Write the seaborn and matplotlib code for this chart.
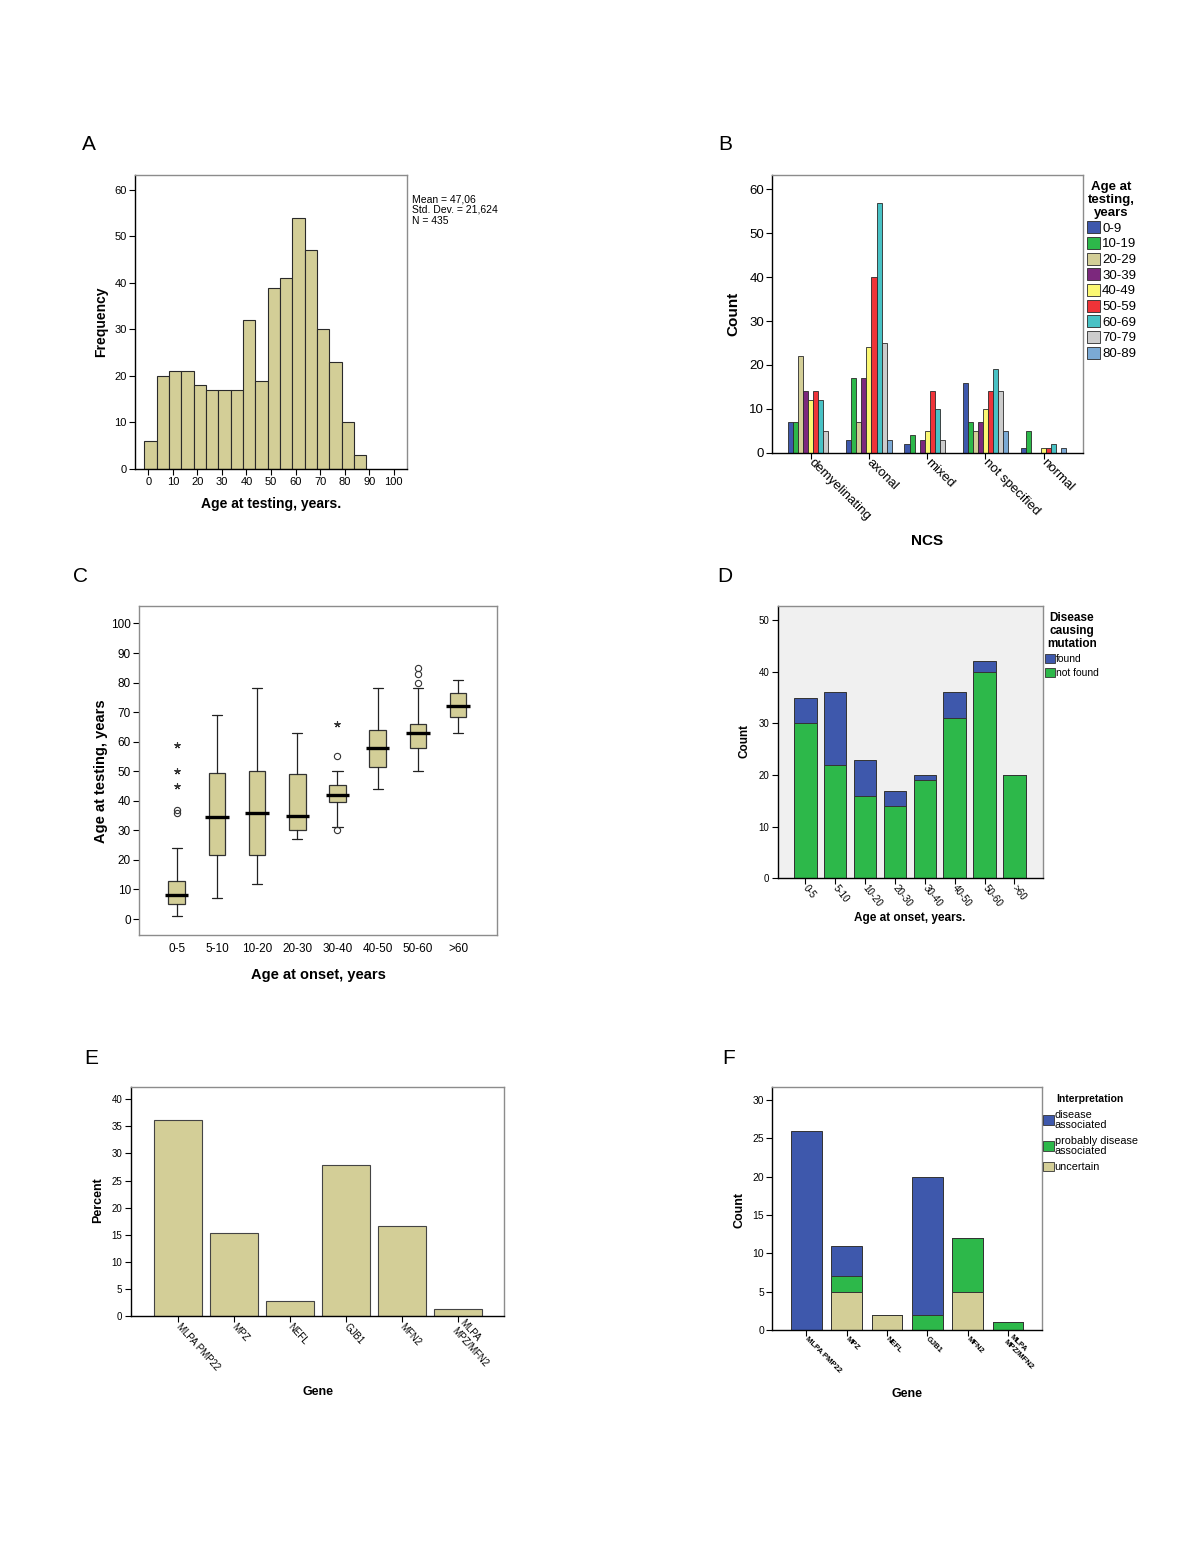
import numpy as np
import pandas as pd
import matplotlib
matplotlib.use("Agg")
import matplotlib.pyplot as plt
import seaborn as sns
from matplotlib.patches import Patch
from matplotlib import font_manager

# ---------------- data ----------------
# Panel A: histogram of age at testing
hist_counts = [6, 20, 21, 21, 18, 17, 17, 17, 32, 19, 39, 41, 54, 47, 30, 23, 10, 3]
hist_bin_start = -1.6
hist_bin_width = 5.02
hist_stats_text = "Mean = 47,06\nStd. Dev. = 21,624\nN = 435"

# Panel B: NCS by age group
ncs_categories = ["demyelinating", "axonal", "mixed", "not specified", "normal"]
age_groups = ["0-9", "10-19", "20-29", "30-39", "40-49", "50-59", "60-69", "70-79", "80-89"]
ncs_demyelinating = [7, 7, 22, 14, 12, 14, 12, 5, 0]
ncs_axonal = [3, 17, 7, 17, 24, 40, 57, 25, 3]
ncs_mixed = [2, 4, 0, 3, 5, 14, 10, 3, 0]
ncs_not_specified = [16, 7, 5, 7, 10, 14, 19, 14, 5]
ncs_normal = [1, 5, 0, 0, 1, 1, 2, 0, 1]

# Panel C: boxplots of age at testing by age at onset
onset_groups = ["0-5", "5-10", "10-20", "20-30", "30-40", "40-50", "50-60", ">60"]
box_whislo = [1, 7, 12, 27, 31, 44, 50, 63]
box_q1 = [5, 21.5, 21.5, 30, 39.5, 51.5, 58, 68.5]
box_med = [8, 34.5, 36, 35, 42, 58, 63, 72]
box_q3 = [13, 49.5, 50, 49, 45.5, 64, 66, 76.5]
box_whishi = [24, 69, 78, 63, 50, 78, 78, 81]
outlier_group = ["0-5", "0-5", "30-40", "30-40", "50-60", "50-60", "50-60"]
outlier_value = [36, 37, 30, 55, 80, 83, 85]
extreme_group = ["0-5", "0-5", "0-5", "30-40"]
extreme_value = [45, 50, 59, 66]

# Panel D: disease causing mutation by age at onset
mutation_found = [5, 14, 7, 3, 1, 5, 2, 0]
mutation_not_found = [30, 22, 16, 14, 19, 31, 40, 20]

# Panel E: percent by gene
genes = ["MLPA PMP22", "MPZ", "NEFL", "GJB1", "MFN2", "MLPA\nMPZ/MFN2"]
gene_percent = [36.1, 15.3, 2.8, 27.8, 16.7, 1.4]

# Panel F: interpretation by gene
interp_disease = [26, 4, 0, 18, 0, 0]
interp_probably = [0, 2, 0, 2, 7, 1]
interp_uncertain = [0, 5, 2, 0, 5, 0]

# ---------------- style ----------------
BEIGE = "#D3CE97"
BLUE = "#3E58AC"
GREEN = "#2DB84A"
age_colors = ["#3E58AC", "#2DB84A", "#D3CE97", "#7C287D", "#FBF873",
              "#EF3338", "#48C2C5", "#CCCCCC", "#7BAAD5"]
FRAME = "#8C8C8C"
EDGE = "#2A2A2A"

sns.set_theme(style="white")
names = {f.name for f in font_manager.fontManager.ttflist}
SANS = "Liberation Sans" if "Liberation Sans" in names else "DejaVu Sans"
NARROW = "Liberation Sans Narrow" if "Liberation Sans Narrow" in names else SANS
plt.rcParams["font.family"] = [SANS, "DejaVu Sans"]
plt.rcParams["text.color"] = "black"
plt.rcParams["axes.labelcolor"] = "black"
plt.rcParams["xtick.color"] = "black"
plt.rcParams["ytick.color"] = "black"

W, H = 1200, 1553
fig = plt.figure(figsize=(W / 100, H / 100), dpi=100)
fig.patch.set_facecolor("white")


def add_axes(l, t, r, b):
    return fig.add_axes([l / W, 1 - b / H, (r - l) / W, (b - t) / H])


def frame(ax, black=("left", "bottom")):
    for name, s in ax.spines.items():
        s.set_visible(True)
        s.set_linewidth(1.0)
        s.set_color("black" if name in black else FRAME)
    ax.tick_params(axis="both", which="both", direction="out", length=4, width=0.8,
                   bottom=True, left=True, top=False, right=False, pad=2)


def labels(ax, xl, yl, xpos, ypos, size, family=None):
    kw = dict(fontweight="bold", fontsize=size)
    if family:
        kw["family"] = family
    ax.set_xlabel(xl, **kw)
    ax.set_ylabel(yl, **kw)
    ax.xaxis.set_label_coords(*xpos)
    ax.yaxis.set_label_coords(*ypos)
    ax.xaxis.label.set_va("center")
    ax.yaxis.label.set_va("center")


def center_title(leg, spacing):
    t = leg.get_title()
    t.set_multialignment("center")
    t.set_linespacing(spacing)


def letter(txt, x, y):
    fig.text(x / W, 1 - y / H, txt, fontsize=15, ha="center", va="center")


# ---------------- Panel A ----------------
axA = add_axes(135, 175, 407, 469)
n_bins = len(hist_counts)
bin_end = hist_bin_start + hist_bin_width * n_bins
centers = hist_bin_start + hist_bin_width * (np.arange(n_bins) + 0.5)
df_hist = pd.DataFrame({"age": centers, "freq": np.asarray(hist_counts, dtype=float)})
sns.histplot(data=df_hist, x="age", weights="freq", bins=n_bins,
             binrange=(hist_bin_start, bin_end), color=BEIGE,
             edgecolor=EDGE, linewidth=0.8, alpha=1, ax=axA)
axA.set_xlim(-5.4, 105.4)
axA.set_ylim(0, 63.2)
axA.set_xticks(range(0, 101, 10))
axA.set_yticks(range(0, 61, 10))
frame(axA)
axA.tick_params(labelsize=8)
labels(axA, "Age at testing, years.", "Frequency", (0.5, -0.119), (-0.125, 0.5), 10)
fig.text(412 / W, 1 - 194 / H, hist_stats_text, ha="left", va="top", fontsize=7.5,
         linespacing=1.12)

# ---------------- Panel B ----------------
axB = add_axes(772.3, 175, 1082.7, 452.7)
df_ncs = pd.DataFrame({
    "NCS": np.repeat(ncs_categories, len(age_groups)),
    "Age": age_groups * len(ncs_categories),
    "Count": ncs_demyelinating + ncs_axonal + ncs_mixed + ncs_not_specified + ncs_normal,
})
sns.barplot(data=df_ncs, x="NCS", y="Count", hue="Age", order=ncs_categories,
            hue_order=age_groups, palette=age_colors, width=0.78, gap=0,
            edgecolor=EDGE, linewidth=0.6, errorbar=None, legend=False,
            saturation=1, ax=axB)
axB.set_xlim(-0.66, 4.67)
axB.set_ylim(0, 63.3)
axB.set_yticks(range(0, 61, 10))
frame(axB)
axB.tick_params(labelsize=9.5)
for t in axB.get_xticklabels():
    t.set_rotation(-45)
    t.set_ha("left")
    t.set_va("center")
    t.set_rotation_mode("anchor")
labels(axB, "NCS", "Count", (0.498, -0.318), (-0.127, 0.5), 11)
handlesB = [Patch(facecolor=c, edgecolor=EDGE, linewidth=0.6, label=g)
            for c, g in zip(age_colors, age_groups)]
legB = axB.legend(handles=handlesB, title="Age at\ntesting,\nyears", loc="upper left",
                  bbox_to_anchor=(1.005, 0.988), frameon=False, fontsize=9.5,
                  title_fontproperties={"weight": "bold", "size": 9.5},
                  handlelength=1.0, handleheight=1.0, handletextpad=0.15,
                  labelspacing=0.17, borderaxespad=0, borderpad=0.2)
center_title(legB, 1.12)

# ---------------- Panel C ----------------
axC = add_axes(139.3, 606, 496.7, 935)
stats = [dict(label=g, whislo=lo, q1=a, med=m, q3=b, whishi=hi)
         for g, lo, a, m, b, hi in zip(onset_groups, box_whislo, box_q1, box_med,
                                       box_q3, box_whishi)]
posC = np.arange(len(onset_groups))
axC.bxp(stats, positions=posC, widths=0.41, capwidths=0.25, showfliers=False,
        patch_artist=True,
        boxprops=dict(facecolor=BEIGE, edgecolor="#333333", linewidth=0.9),
        whiskerprops=dict(color="#222222", linewidth=0.9),
        capprops=dict(color="#222222", linewidth=0.9),
        medianprops=dict(visible=False))
axC.hlines(box_med, posC - 0.29, posC + 0.29, color="black", linewidth=2.4, zorder=5)
o_idx = [onset_groups.index(g) for g in outlier_group]
axC.plot(o_idx, outlier_value, ls="none", marker="o", mfc="none", mec="#333333",
         ms=4.5, mew=0.8)
e_idx = [onset_groups.index(g) for g in extreme_group]
axC.plot(e_idx, extreme_value, ls="none", marker=(5, 2, 0), color="#333333",
         ms=4.5, mew=0.8)
axC.set_xlim(-0.93, 7.96)
axC.set_ylim(-5.4, 105.9)
axC.set_yticks(range(0, 101, 10))
axC.set_xticks(posC)
axC.set_xticklabels(onset_groups)
frame(axC, black=())
axC.tick_params(axis="x", length=0, pad=6)
axC.tick_params(labelsize=8.5)
for t in axC.get_xticklabels() + axC.get_yticklabels():
    t.set_family(NARROW)
labels(axC, "Age at onset, years", "Age at testing, years", (0.5, -0.122),
       (-0.107, 0.498), 10.5, family=NARROW)

# ---------------- Panel D ----------------
axD = add_axes(777.7, 605.7, 1042.7, 878.3)
axD.set_facecolor("#F0F0F0")
mutation_total = [f + n for f, n in zip(mutation_found, mutation_not_found)]
sns.barplot(x=onset_groups, y=mutation_total, order=onset_groups, color=BLUE,
            saturation=1, width=0.75, edgecolor="#333333", linewidth=0.7, ax=axD)
sns.barplot(x=onset_groups, y=mutation_not_found, order=onset_groups, color=GREEN,
            saturation=1, width=0.75, edgecolor="#333333", linewidth=0.7, ax=axD)
axD.set_xlim(-0.93, 7.95)
axD.set_ylim(0, 52.8)
axD.set_yticks(range(0, 51, 10))
frame(axD)
axD.tick_params(labelsize=7)
for t in axD.get_xticklabels():
    t.set_rotation(-52)
    t.set_ha("left")
    t.set_va("center")
    t.set_rotation_mode("anchor")
labels(axD, "Age at onset, years.", "Count", (0.499, -0.146), (-0.127, 0.504), 8.5)
handlesD = [Patch(facecolor=BLUE, edgecolor="#333333", linewidth=0.6, label="found"),
            Patch(facecolor=GREEN, edgecolor="#333333", linewidth=0.6, label="not found")]
legD = axD.legend(handles=handlesD, title="Disease\ncausing\nmutation", loc="upper left",
                  bbox_to_anchor=(1.003, 0.982), frameon=False, fontsize=7.5,
                  title_fontproperties={"weight": "bold", "size": 8.5},
                  handlelength=1.0, handleheight=1.0, handletextpad=0.1,
                  labelspacing=0.38, borderaxespad=0, borderpad=0.1)
center_title(legD, 1.12)

# ---------------- Panel E ----------------
axE = add_axes(130.7, 1086.7, 504, 1316.3)
sns.barplot(x=genes, y=gene_percent, order=genes, color=BEIGE, saturation=1,
            width=0.86, edgecolor="#444444", linewidth=0.8, ax=axE)
axE.set_xlim(-0.846, 5.83)
axE.set_ylim(0, 42.3)
axE.set_yticks(range(0, 41, 5))
frame(axE)
axE.tick_params(labelsize=7)
for t in axE.get_xticklabels():
    t.set_rotation(-48)
    t.set_ha("left")
    t.set_va("center")
    t.set_rotation_mode("anchor")
    t.set_multialignment("left")
labels(axE, "Gene", "Percent", (0.502, -0.33), (-0.088, 0.507), 9)

# ---------------- Panel F ----------------
axF = add_axes(772.3, 1087.3, 1041.7, 1330)
tot_all = [a + b + c for a, b, c in zip(interp_uncertain, interp_probably, interp_disease)]
tot_up = [a + b for a, b in zip(interp_uncertain, interp_probably)]
for vals, col in [(tot_all, BLUE), (tot_up, GREEN), (interp_uncertain, BEIGE)]:
    sns.barplot(x=genes, y=vals, order=genes, color=col, saturation=1, width=0.76,
                edgecolor="#333333", linewidth=0.7, ax=axF)
axF.set_xlim(-0.844, 5.84)
axF.set_ylim(0, 31.66)
axF.set_yticks(range(0, 31, 5))
frame(axF)
axF.tick_params(axis="y", labelsize=7.5)
axF.tick_params(axis="x", labelsize=5.5)
for t in axF.get_xticklabels():
    t.set_rotation(-45)
    t.set_ha("left")
    t.set_va("center")
    t.set_rotation_mode("anchor")
    t.set_multialignment("left")
    t.set_fontweight("bold")
labels(axF, "Gene", "Count", (0.5, -0.264), (-0.12, 0.494), 9)
handlesF = [Patch(facecolor=BLUE, edgecolor="#333333", linewidth=0.6, label="disease\nassociated"),
            Patch(facecolor=GREEN, edgecolor="#333333", linewidth=0.6, label="probably disease\nassociated"),
            Patch(facecolor=BEIGE, edgecolor="#333333", linewidth=0.6, label="uncertain")]
legF = axF.legend(handles=handlesF, title="Interpretation", loc="upper left",
                  bbox_to_anchor=(1.0, 0.978), frameon=False, fontsize=7.8,
                  title_fontproperties={"weight": "bold", "size": 7.5},
                  handlelength=1.0, handleheight=1.0, handletextpad=0.1,
                  labelspacing=0.55, borderaxespad=0, borderpad=0.1)
for t in legF.get_texts():
    t.set_linespacing(1.0)

# ---------------- panel letters ----------------
letter("A", 89, 145)
letter("B", 725, 145)
letter("C", 80, 577)
letter("D", 725, 577)
letter("E", 91, 1059)
letter("F", 729, 1059)

fig.savefig("out.png", dpi=100, facecolor="white")
